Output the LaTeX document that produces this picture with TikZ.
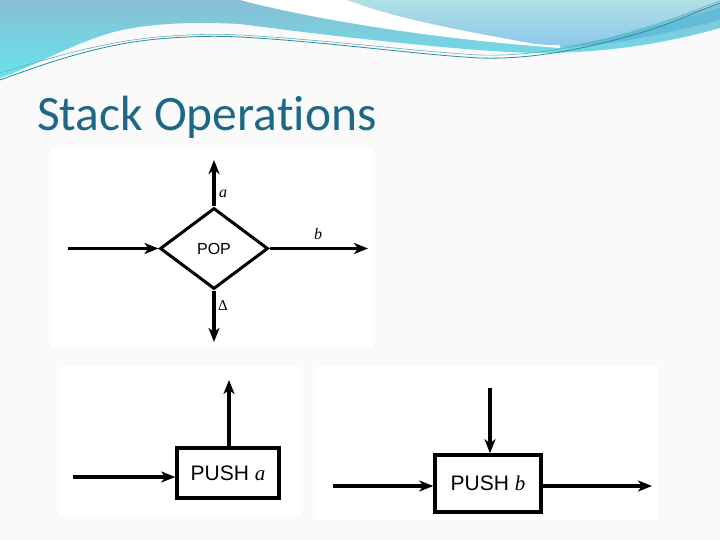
\documentclass[tikz,border=0pt]{standalone}
\usepackage{fontspec}
\setmainfont{Liberation Sans}
\newfontfamily\titlefont[Ligatures=NoCommon]{Carlito}
\newfontfamily\serifit{Liberation Serif}
\usetikzlibrary{shapes.geometric,arrows.meta}
\definecolor{titlecol}{RGB}{28,104,134}
\definecolor{bgcol}{RGB}{250,250,250}
\definecolor{hdtop}{RGB}{136,190,212}
\definecolor{hdbot}{RGB}{104,228,236}
\definecolor{hbtop}{RGB}{176,224,230}
\definecolor{hbbot}{RGB}{140,198,234}
\definecolor{hband}{RGB}{92,184,218}
\definecolor{wline}{RGB}{40,140,156}
\begin{document}
\begin{tikzpicture}[x=1pt,y=-1pt,
  conn/.style={line width=3.2pt,-{Stealth[length=14pt,width=11pt,inset=4pt]}},
  popshape/.style={diamond,draw,line width=3pt,minimum width=108pt,minimum height=81pt,aspect=1.33,inner sep=0pt,font=\fontsize{16}{16}\selectfont},
  pushbox/.style={rectangle,draw,line width=3.6pt,inner sep=0pt,font=\fontsize{21}{21}\selectfont},
  lbl/.style={inner sep=0pt,font=\serifit\itshape\fontsize{16}{16}\selectfont},
  panel/.style={fill=white,draw=none}]
\useasboundingbox (0,0) rectangle (720,540);
\fill[bgcol] (0,0) rectangle (720,540);
% header
\shade[top color=hdtop,bottom color=hdbot] (0,0) -- (720,0) -- (720,28)
  .. controls (660,45) and (600,53) .. (540,53)
  .. controls (480,53) and (330,36) .. (240,24)
  .. controls (200,22) and (150,22) .. (110,33)
  .. controls (70,45) and (30,68) .. (0,78) -- cycle;
\fill[white] (240,0) .. controls (300,16) and (420,38) .. (560,48) -- (560,40) -- (347,0) -- cycle;
\shade[top color=hbtop,bottom color=hbbot] (347,0) .. controls (400,20) and (470,32) .. (530,43)
  .. controls (560,48) and (590,44) .. (620,34)
  .. controls (660,22) and (700,10) .. (720,3) -- (720,0) -- cycle;
\fill[hband,opacity=0.8] (560,47) .. controls (600,42) and (660,25) .. (720,8) -- (720,20)
  .. controls (660,35) and (610,46) .. (560,47) -- cycle;
\draw[wline,line width=0.8pt] (0,80) .. controls (60,58) and (110,42) .. (170,38)
  .. controls (200,36) and (220,36) .. (240,37)
  .. controls (330,42) and (420,55) .. (480,58)
  .. controls (540,60) and (600,45) .. (650,30)
  .. controls (680,20) and (700,10) .. (720,3);
\draw[wline!70,line width=0.6pt] (0,73) .. controls (60,55) and (110,40) .. (170,36)
  .. controls (200,34) and (220,34) .. (240,35)
  .. controls (330,40) and (420,52) .. (480,55)
  .. controls (540,57) and (600,42) .. (650,27)
  .. controls (680,17) and (700,8) .. (720,1);
% title
\node[anchor=base west,inner sep=0pt,font=\titlefont\fontsize{49.5}{49.5}\selectfont,text=titlecol] (title) at (37,131) {Stack Operations};
% panels
\fill[panel] (52,148) rectangle (372,347);
\fill[panel] (60,366) rectangle (300,517);
\fill[panel] (316,366) rectangle (658,520);
% POP
\node[popshape] (pop) at (214,248.5) {POP};
\coordinate (pin) at (68,248.5);
\coordinate (pa) at (214,160);
\coordinate (pb) at (368,248.5);
\coordinate (pd) at (214,342);
\draw[conn] (pin) -- (pop.west);
\draw[conn] (pop.north) -- (pa);
\draw[conn] (pop.east) -- (pb);
\draw[conn] (pop.south) -- (pd);
\node[lbl] (la) at (223,194) {a};
\node[lbl] (lb) at (318,234) {b};
\node[inner sep=0pt,font=\serifit\fontsize{15}{15}\selectfont] (ld) at (223,306) {Δ};
% PUSH a
\node[pushbox,minimum width=102pt,minimum height=50pt] (pusha) at (228,473) {PUSH {\serifit\itshape a}};
\coordinate (ain) at (73,477);
\coordinate (aup) at (229,380);
\draw[conn] (ain) -- (ain -| pusha.west);
\draw[conn] (aup |- pusha.north) -- (aup);
% PUSH b
\node[pushbox,minimum width=106pt,minimum height=57pt] (pushb) at (488,483.5) {PUSH {\serifit\itshape b}};
\coordinate (bin) at (333,486);
\coordinate (bout) at (652,486);
\coordinate (btop) at (490,388);
\draw[conn] (bin) -- (bin -| pushb.west);
\draw[conn] (bout -| pushb.east) -- (bout);
\draw[conn] (btop) -- (btop |- pushb.north);
\end{tikzpicture}
\end{document}
